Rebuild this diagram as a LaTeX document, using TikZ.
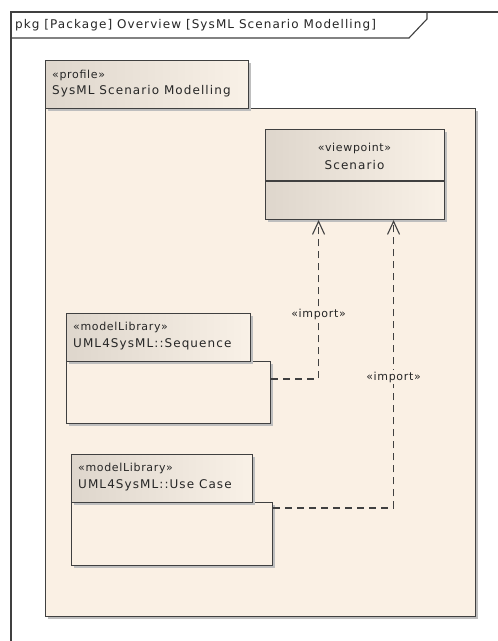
\documentclass[tikz,border=0pt]{standalone}
\usepackage{fontspec}
\setmainfont{DejaVu Sans}
\newfontfamily\namefont[LetterSpace=9]{DejaVu Sans}
\newfontfamily\stereofont[LetterSpace=6]{DejaVu Sans}
\usetikzlibrary{arrows.meta,shadows}
\definecolor{linecol}{RGB}{64,64,64}
\definecolor{bodyfill}{RGB}{250,240,228}
\definecolor{gradL}{RGB}{222,214,204}
\definecolor{gradR}{RGB}{249,241,231}
\definecolor{shadowcol}{RGB}{190,190,190}
\tikzset{
  shbox/.style={draw=linecol, line width=1.1pt, inner sep=0pt, anchor=north west,
    drop shadow={shadow xshift=2.5pt, shadow yshift=-2.5pt, fill=shadowcol, opacity=1}},
  tabbox/.style={shbox, shading=axis, left color=gradL, right color=gradR, shading angle=90},
  bodybox/.style={shbox, fill=bodyfill},
  txt/.style={font=\namefont\fontsize{12}{14}\selectfont, inner sep=0pt, text=black!85},
  stxt/.style={font=\stereofont\fontsize{11}{13}\selectfont, inner sep=0pt, text=black!85},
  imp/.style={draw=linecol, line width=1.1pt, dash pattern=on 7pt off 5pt,
    -{Straight Barb[length=13pt, width=12pt, line width=1.1pt]}},
  lbl/.style={stxt, fill=bodyfill, inner sep=1.5pt}
}
\begin{document}
\begin{tikzpicture}[x=1pt, y=-1pt]
\useasboundingbox (0,0) rectangle (498,641);
\fill[white] (0,0) rectangle (498,641);
% frame
\draw[linecol, line width=1.1pt] (498,12) -- (11,12) -- (11,641);
\draw[linecol, line width=1.1pt] (11,38) -- (409,38) -- (427,19) -- (427,12);
\node[txt, anchor=west] (title) at (15,25) {pkg [Package] Overview [SysML Scenario Modelling]};
% profile package
\node[bodybox, minimum width=430pt, minimum height=508pt] (profbody) at (45,108) {};
\node[tabbox, minimum width=203pt, minimum height=48pt] (proftab) at (45,60) {};
\node[stxt, anchor=west] (profst) at (52,75) {«profile»};
\node[txt, anchor=west] (profname) at (52,91) {SysML Scenario Modelling};
% viewpoint
\node[tabbox, minimum width=179pt, minimum height=90pt] (scen) at (265,129) {};
\draw[linecol, line width=1.1pt] (265,181) -- (444,181);
\node[stxt] (scenst) at (354.5,148) {«viewpoint»};
\node[txt] (scenname) at (354.5,165) {Scenario};
% sequence library
\node[bodybox, minimum width=204pt, minimum height=62pt] (seqbody) at (66,361) {};
\node[tabbox, minimum width=184pt, minimum height=48pt] (seqtab) at (66,313) {};
\node[stxt, anchor=west] (seqst) at (73,327) {«modelLibrary»};
\node[txt, anchor=west] (seqname) at (73,344) {UML4SysML::Sequence};
% use case library
\node[bodybox, minimum width=201pt, minimum height=63pt] (ucbody) at (71,502) {};
\node[tabbox, minimum width=181pt, minimum height=48pt] (uctab) at (71,454) {};
\node[stxt, anchor=west] (ucst) at (78,468) {«modelLibrary»};
\node[txt, anchor=west] (ucname) at (78,485) {UML4SysML::Use Case};
% imports
\draw[imp] ([yshift=-18pt]seqbody.north east) -| ([xshift=-36.5pt]scen.south)
  node[lbl, pos=0.703] (imp1) {«import»};
\draw[imp] ([yshift=-6pt]ucbody.north east) -| ([xshift=38.5pt]scen.south)
  node[lbl, pos=0.727] (imp2) {«import»};
\end{tikzpicture}
\end{document}
